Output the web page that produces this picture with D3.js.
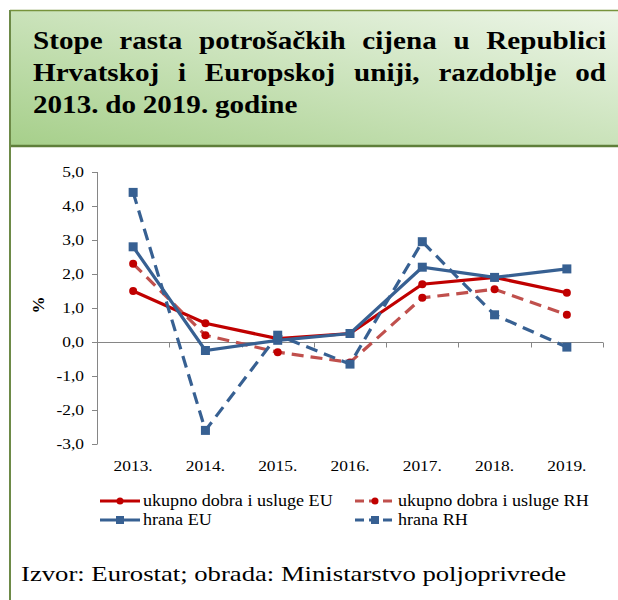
<!DOCTYPE html>
<html>
<head>
<meta charset="utf-8">
<script src="https://cdn.jsdelivr.net/npm/d3@7"></script>
<style>
  body { margin: 0; background: #fff; }
  svg text { font-family: 'Liberation Serif', 'DejaVu Serif', serif; }
</style>
</head>
<body>
<svg id="chart" width="618" height="600"></svg>
<script>
const years = ["2013.", "2014.", "2015.", "2016.", "2017.", "2018.", "2019."];
const ukupnoEU = [1.5, 0.55, 0.1, 0.25, 1.7, 1.9, 1.45];
const ukupnoRH = [2.3, 0.2, -0.3, -0.6, 1.3, 1.55, 0.8];
const hranaEU = [2.8, -0.25, 0.05, 0.25, 2.2, 1.9, 2.15];
const hranaRH = [4.4, -2.6, 0.2, -0.65, 2.95, 0.8, -0.15];
const yTicks = [5, 4, 3, 2, 1, 0, -1, -2, -3];
const titleLines = [
    "Stope rasta potrošačkih cijena u Republici",
    "Hrvatskoj i Europskoj uniji, razdoblje od",
    "2013. do 2019. godine"
];
const source = "Izvor: Eurostat; obrada: Ministarstvo poljoprivrede";

const series = [
    { name: "ukupno dobra i usluge EU", values: ukupnoEU, color: "#c00000", dash: null, marker: "circle" },
    { name: "ukupno dobra i usluge RH", values: ukupnoRH, color: "#c0504d", dash: "12,7", marker: "circle" },
    { name: "hrana EU", values: hranaEU, color: "#376092", dash: null, marker: "square" },
    { name: "hrana RH", values: hranaRH, color: "#376092", dash: "12,7", marker: "square" }
];

const svg = d3.select("#chart");
const SX = 1.16; // the text in the picture is a bit wider than Times

function wideText(sel, x, y, sx) {
    return sel.append("text")
        .attr("transform", `translate(${x},${y}) scale(${sx},1)`);
}

// title box
const defs = svg.append("defs");
const grad = defs.append("linearGradient")
    .attr("id", "titleGrad")
    .attr("x1", "0").attr("y1", "1").attr("x2", "1").attr("y2", "0");
grad.append("stop").attr("offset", "0%").attr("stop-color", "#a6cf8a");
grad.append("stop").attr("offset", "100%").attr("stop-color", "#eef6ea");

svg.append("rect")
    .attr("x", 10).attr("y", 10).attr("width", 610).attr("height", 136)
    .attr("fill", "url(#titleGrad)");
svg.append("line")
    .attr("x1", 10).attr("x2", 618).attr("y1", 10.5).attr("y2", 10.5)
    .attr("stroke", "#77933c").attr("stroke-width", 1.5);
svg.append("line")
    .attr("x1", 10).attr("x2", 618).attr("y1", 146).attr("y2", 146)
    .attr("stroke", "#5f7f3a").attr("stroke-width", 2.5);
svg.append("line")
    .attr("x1", 10).attr("x2", 10).attr("y1", 10).attr("y2", 600)
    .attr("stroke", "#6d8a47").attr("stroke-width", 2);

// justified title
const titleLeft = 33, titleRight = 606, titleSX = 1.12;
titleLines.forEach((line, i) => {
    const words = line.split(" ");
    const t = wideText(svg, titleLeft, 49 + i * 32, titleSX)
        .attr("font-size", 26)
        .attr("font-weight", "bold")
        .attr("fill", "#000");
    const spans = words.map(w => t.append("tspan").text(w));
    const widths = spans.map(s => s.node().getComputedTextLength());
    const total = d3.sum(widths);
    const last = i === titleLines.length - 1;
    const avail = (titleRight - titleLeft) / titleSX;
    const gap = last ? 6 : (avail - total) / (words.length - 1);
    let x = 0;
    spans.forEach((s, k) => {
        s.attr("x", x);
        x += widths[k] + gap;
    });
});

// chart scales
const xScale = d3.scaleBand().domain(years).range([97, 603]);
const yScale = d3.scaleLinear().domain([-3, 5]).range([444, 172]);
const xc = d => xScale(d) + xScale.bandwidth() / 2;

const axisColor = "#868686";
const g = svg.append("g");

// y axis
g.append("line")
    .attr("x1", 97.5).attr("x2", 97.5)
    .attr("y1", yScale(5)).attr("y2", yScale(-3))
    .attr("stroke", axisColor);
yTicks.forEach(v => {
    g.append("line")
        .attr("x1", 92).attr("x2", 97.5)
        .attr("y1", Math.round(yScale(v)) + 0.5).attr("y2", Math.round(yScale(v)) + 0.5)
        .attr("stroke", axisColor);
    wideText(g, 84, yScale(v) + 5, SX)
        .attr("text-anchor", "end")
        .attr("font-size", 15)
        .text(d3.format(".1f")(v).replace(".", ",").replace("−", "-"));
});

// x axis at zero
const y0 = Math.round(yScale(0)) + 0.5;
g.append("line")
    .attr("x1", 97).attr("x2", 603)
    .attr("y1", y0).attr("y2", y0)
    .attr("stroke", axisColor);
d3.range(1, years.length + 1).forEach(i => {
    const x = Math.round(97 + i * xScale.step()) + 0.5;
    g.append("line")
        .attr("x1", x).attr("x2", x)
        .attr("y1", y0).attr("y2", y0 + 5)
        .attr("stroke", axisColor);
});
years.forEach(d => {
    wideText(g, xc(d), 471, SX)
        .attr("text-anchor", "middle")
        .attr("font-size", 15)
        .text(d);
});

// y label
g.append("text")
    .attr("transform", "translate(44,305) rotate(-90)")
    .attr("text-anchor", "middle")
    .attr("font-size", 17)
    .attr("font-weight", "bold")
    .text("%");

// lines
const lineGen = d3.line().x((v, i) => xc(years[i])).y(v => yScale(v));

function drawMarker(sel, s, x, y) {
    if (s.marker === "circle") {
        sel.append("circle").attr("cx", x).attr("cy", y).attr("r", 4).attr("fill", s.color === "#c0504d" ? "#c00000" : s.color);
    } else {
        sel.append("rect").attr("x", x - 4.5).attr("y", y - 4.5).attr("width", 9).attr("height", 9).attr("fill", s.color);
    }
}

series.forEach(s => {
    const sg = g.append("g");
    sg.append("path")
        .attr("d", lineGen(s.values))
        .attr("fill", "none")
        .attr("stroke", s.color)
        .attr("stroke-width", 3.2)
        .attr("stroke-dasharray", s.dash);
    s.values.forEach((v, i) => drawMarker(sg, s, xc(years[i]), yScale(v)));
});

// legend
const legendPos = [
    { x: 100, y: 501 }, { x: 355, y: 501 },
    { x: 100, y: 520 }, { x: 355, y: 520 }
];
series.forEach((s, i) => {
    const p = legendPos[i];
    const lg = svg.append("g");
    lg.append("line")
        .attr("x1", p.x).attr("x2", p.x + 40)
        .attr("y1", p.y).attr("y2", p.y)
        .attr("stroke", s.color)
        .attr("stroke-width", 3)
        .attr("stroke-dasharray", s.dash ? "9,5" : null);
    if (s.marker === "circle") {
        lg.append("circle").attr("cx", p.x + 20).attr("cy", p.y).attr("r", 3.5)
            .attr("fill", s.color === "#c0504d" ? "#c00000" : s.color);
    } else {
        lg.append("rect").attr("x", p.x + 16).attr("y", p.y - 4).attr("width", 8).attr("height", 8).attr("fill", s.color);
    }
    wideText(lg, p.x + 43, p.y + 5, 1.13)
        .attr("font-size", 16)
        .text(s.name);
});

// source
wideText(svg, 21, 581, 1.27)
    .attr("font-size", 21)
    .text(source);
</script>
</body>
</html>
